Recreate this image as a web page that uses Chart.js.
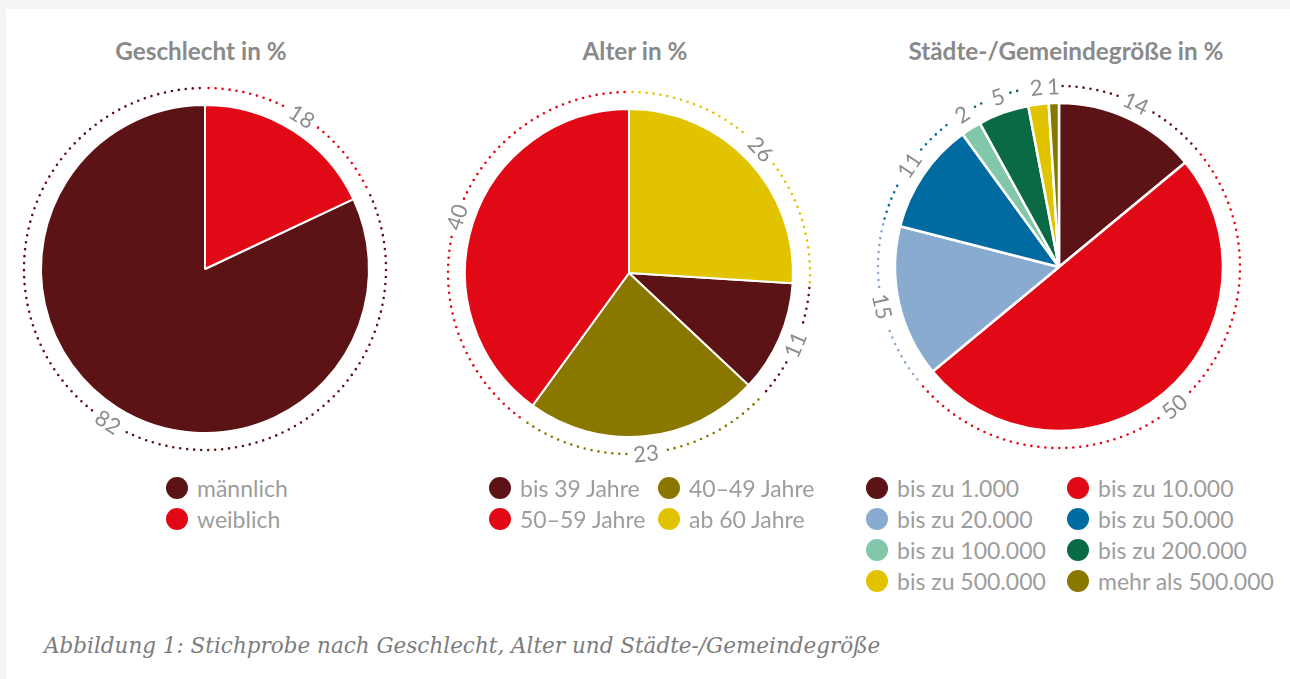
<!DOCTYPE html>
<html lang="de">
<head>
<meta charset="utf-8">
<title>Stichprobe nach Geschlecht, Alter und Städte-/Gemeindegröße</title>
<script src="https://cdn.jsdelivr.net/npm/chart.js@4.4.1/dist/chart.umd.min.js"></script>
<style>
  html, body { margin: 0; padding: 0; }
  body { width: 1290px; height: 679px; background: #f5f5f5; position: relative; overflow: hidden; font-family: 'Lato', sans-serif; }
  .panel { position: absolute; left: 6px; top: 9px; right: 0; bottom: 0; background: #fff; }
  .chart { position: absolute; width: 400px; height: 400px; }
  .title { position: absolute; top: 33px; width: 400px; text-align: center; font-weight: bold; font-size: 24.3px; color: #8a8a8a; line-height: 36px; }
  .legend { position: absolute; display: flex; flex-wrap: wrap; }
  .legend .item { display: flex; align-items: center; height: 31px; font-size: 23px; color: #9d9d9d; white-space: nowrap; }
  .legend .dot { width: 22px; height: 22px; border-radius: 50%; margin-right: 9px; flex: none; }
  .caption { position: absolute; left: 44px; top: 633px; font-family: 'DejaVu Serif', serif; font-style: italic; font-size: 21.5px; color: #7c7c7c; white-space: nowrap; }
</style>
</head>
<body>
<div class="panel"></div>

<div class="title" style="left:1px">Geschlecht in %</div>
<div class="title" style="left:435px">Alter in %</div>
<div class="title" style="left:866px">Städte-/Gemeindegröße in %</div>

<canvas class="chart" id="genderChart" width="400" height="400" style="left:5px;top:69px"></canvas>
<canvas class="chart" id="ageChart" width="400" height="400" style="left:429px;top:73px"></canvas>
<canvas class="chart" id="cityChart" width="400" height="400" style="left:859px;top:67px"></canvas>

<div class="legend" id="genderLegend" style="left:166px;top:472px;width:200px"></div>
<div class="legend" id="ageLegend" style="left:489px;top:472px;width:340px"></div>
<div class="legend" id="cityLegend" style="left:866px;top:472px;width:402px"></div>

<div class="caption">Abbildung 1: Stichprobe nach Geschlecht, Alter und Städte-/Gemeindegröße</div>

<script>
// data
const genderLabels = ['männlich', 'weiblich'];
const genderValues = [82, 18];
const genderColors = ['#5c1315', '#e20916'];

const ageLabels = ['bis 39 Jahre', '40–49 Jahre', '50–59 Jahre', 'ab 60 Jahre'];
const ageValues = [11, 23, 40, 26];
const ageColors = ['#5c1315', '#8a7700', '#e20916', '#e2c300'];

const cityLabels = ['bis zu 1.000', 'bis zu 10.000', 'bis zu 20.000', 'bis zu 50.000',
  'bis zu 100.000', 'bis zu 200.000', 'bis zu 500.000', 'mehr als 500.000'];
const cityValues = [14, 50, 15, 11, 2, 5, 2, 1];
const cityColors = ['#5c1315', '#e20916', '#88abcf', '#006ba1', '#82c7a9', '#0b6a46', '#e2c300', '#8a7700'];

// which slice begins at 12 o'clock
const genderFirst = 1;
const ageFirst = 3;
const cityFirst = 0;

const labelColor = '#8c8c8c';

// dotted ring + rotated value labels around the pie
const ringPlugin = {
  id: 'ring',
  afterDatasetsDraw(chart, args, opts) {
    const ctx = chart.ctx;
    const ds = chart.data.datasets[0];
    const meta = chart.getDatasetMeta(0);
    ctx.save();
    ctx.font = '22px Lato';
    meta.data.forEach((arc, i) => {
      const p = arc.getProps(['x', 'y', 'startAngle', 'endAngle', 'outerRadius'], true);
      const r = p.outerRadius + opts.offset;
      const mid = (p.startAngle + p.endAngle) / 2;
      const text = String(ds.data[i]);
      const gap = (ctx.measureText(text).width / 2 + opts.padding) / r;

      ctx.strokeStyle = ds.backgroundColor[i];
      ctx.lineWidth = 2.6;
      ctx.lineCap = 'round';
      ctx.setLineDash([0, 7]);
      [[p.startAngle + 0.02, mid - gap], [mid + gap, p.endAngle - 0.01]].forEach(([a, b]) => {
        if (b > a) {
          ctx.beginPath();
          ctx.arc(p.x, p.y, r, a, b);
          ctx.stroke();
        }
      });

      ctx.setLineDash([]);
      ctx.save();
      ctx.translate(p.x + r * Math.cos(mid), p.y + r * Math.sin(mid));
      let rot = (mid + Math.PI / 2) % (2 * Math.PI);
      if (rot < 0) rot += 2 * Math.PI;
      if (rot > Math.PI / 2 && rot < Math.PI * 1.5) rot -= Math.PI;
      ctx.rotate(rot);
      ctx.fillStyle = labelColor;
      ctx.textAlign = 'center';
      ctx.textBaseline = 'middle';
      ctx.fillText(text, 0, 1);
      ctx.restore();
    });
    ctx.restore();
  }
};

const makePie = (id, labels, values, colors, first, border) => {
  const total = values.reduce((s, v) => s + v, 0);
  const before = values.slice(0, first).reduce((s, v) => s + v, 0);
  return new Chart(document.getElementById(id), {
    type: 'pie',
    data: {
      labels: labels,
      datasets: [{
        data: values,
        backgroundColor: colors,
        borderColor: '#ffffff',
        borderWidth: border,
        radius: 164
      }]
    },
    options: {
      responsive: false,
      animation: false,
      events: [],
      rotation: -360 * before / total,
      layout: { padding: 0 },
      plugins: {
        legend: { display: false },
        tooltip: { enabled: false },
        ring: { offset: 17, padding: 7 }
      }
    },
    plugins: [ringPlugin]
  });
};

const makeLegend = (id, labels, colors, colWidth) => {
  const box = document.getElementById(id);
  labels.forEach((label, i) => {
    const item = document.createElement('div');
    item.className = 'item';
    item.style.width = colWidth + 'px';
    item.innerHTML = '<span class="dot" style="background:' + colors[i] + '"></span>' + label;
    box.appendChild(item);
  });
};

makePie('genderChart', genderLabels, genderValues, genderColors, genderFirst, 2);
makePie('ageChart', ageLabels, ageValues, ageColors, ageFirst, 2);
makePie('cityChart', cityLabels, cityValues, cityColors, cityFirst, 2.5);

makeLegend('genderLegend', genderLabels, genderColors, 200);
makeLegend('ageLegend', ageLabels, ageColors, 169);
makeLegend('cityLegend', cityLabels, cityColors, 201);
</script>
</body>
</html>
